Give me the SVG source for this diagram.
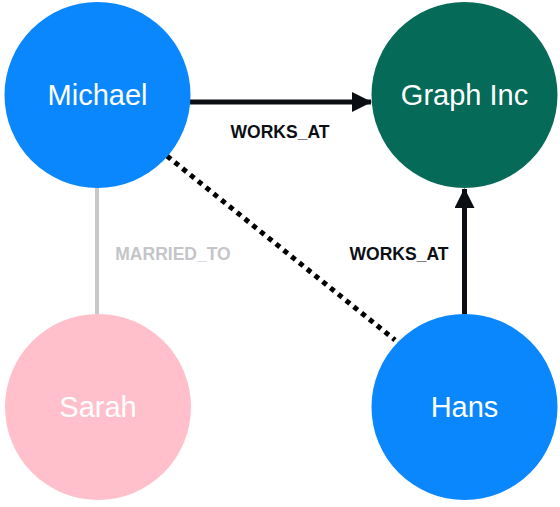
<svg xmlns="http://www.w3.org/2000/svg" width="560" height="507" viewBox="0 0 560 507">
<style>
.node-label{font-family:"Liberation Sans",Arial,sans-serif;font-size:29px;fill:#ffffff;text-anchor:middle}
.rel-label{font-family:"Liberation Sans",Arial,sans-serif;font-size:17.5px;font-weight:bold;text-anchor:middle}
.works{stroke:#0b0f14;stroke-width:5;fill:none}
</style>
<defs>
<marker id="arrow" markerUnits="userSpaceOnUse" markerWidth="20" markerHeight="20" refX="19" refY="10" orient="auto" viewBox="0 0 20 20">
<path d="M0,0 L20,10 L0,20 Z" fill="#0b0f14"/>
</marker>
</defs>
<rect width="560" height="507" fill="#ffffff"/>
<g id="connectors">
<line class="works" x1="190" y1="102" x2="371" y2="102" marker-end="url(#arrow)"/>
<line class="works" x1="464.5" y1="314" x2="464.5" y2="189" marker-end="url(#arrow)"/>
<line x1="97" y1="188" x2="97" y2="314" stroke="#c8c8c8" stroke-width="4"/>
<line x1="167" y1="156" x2="395" y2="340" stroke="#000000" stroke-width="5" stroke-dasharray="5 5"/>
<text class="rel-label" x="280" y="138" fill="#0b0f14">WORKS_AT</text>
<text class="rel-label" x="399" y="260" fill="#0b0f14">WORKS_AT</text>
<text class="rel-label" x="173" y="260" fill="#c4c5c8">MARRIED_TO</text>
</g>
<g id="michael">
<circle cx="97.5" cy="95" r="93" fill="#0a87fc"/>
<text class="node-label" x="97.5" y="105">Michael</text>
</g>
<g id="graph-inc">
<circle cx="464.5" cy="95" r="93" fill="#056a58"/>
<text class="node-label" x="464.5" y="105">Graph Inc</text>
</g>
<g id="sarah">
<circle cx="98" cy="407" r="93" fill="#ffc0cb"/>
<text class="node-label" x="98" y="417">Sarah</text>
</g>
<g id="hans">
<circle cx="464.5" cy="407" r="93" fill="#0a87fc"/>
<text class="node-label" x="464.5" y="417">Hans</text>
</g>
</svg>
